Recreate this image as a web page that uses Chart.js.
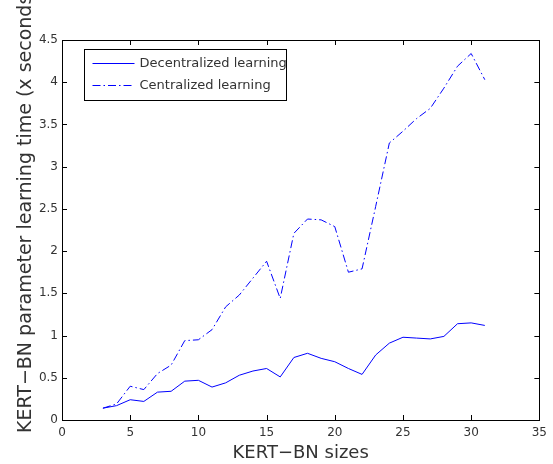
<!DOCTYPE html>
<html lang="en">
  <head>
    <meta charset="UTF-8" />
    <title>KERT-BN parameter learning time</title>
    <style>
      html, body { margin: 0; padding: 0; background: #fff; }
      #wrap { width: 553px; height: 464px; }
    </style>
  </head>
  <body>
    <div id="wrap"><canvas id="myChart" width="553" height="464"></canvas></div>

    <script src="https://cdn.jsdelivr.net/npm/chart.js"></script>
    <script>
      // data
      const sizes = [3, 4, 5, 6, 7, 8, 9, 10, 11, 12, 13, 14, 15, 16, 17, 18, 19, 20, 21, 22, 23, 24, 25, 26, 27, 28, 29, 30, 31];
      const decentralized = [0.14, 0.17, 0.24, 0.22, 0.33, 0.34, 0.46, 0.47, 0.39, 0.44, 0.53, 0.58, 0.61, 0.51, 0.74, 0.79, 0.73, 0.69, 0.61, 0.54, 0.77, 0.91, 0.98, 0.97, 0.96, 0.99, 1.14, 1.15, 1.12];
      const centralized = [0.14, 0.19, 0.40, 0.36, 0.55, 0.65, 0.94, 0.95, 1.07, 1.34, 1.48, 1.68, 1.88, 1.44, 2.21, 2.38, 2.37, 2.29, 1.75, 1.79, 2.53, 3.28, 3.42, 3.57, 3.69, 3.93, 4.19, 4.34, 4.03];
      const xTicks = [0, 5, 10, 15, 20, 25, 30, 35];
      const yTicks = [0, 0.5, 1, 1.5, 2, 2.5, 3, 3.5, 4, 4.5];

      const xTitle = "KERT\u2212BN sizes";
      const yTitle = "KERT\u2212BN parameter learning time (x seconds)";
      const font = "'DejaVu Sans', Verdana, sans-serif";
      const textCol = "#333";

      // MATLAB-like box, inward ticks, legend and y title
      const matlabAxes = {
        id: "matlabAxes",
        afterDraw(chart) {
          const ctx = chart.ctx;
          const a = chart.chartArea;
          const xs = chart.scales.x, ys = chart.scales.y;
          ctx.save();
          ctx.strokeStyle = "#000";
          ctx.lineWidth = 1;
          ctx.strokeRect(Math.round(a.left) + 0.5, Math.round(a.top) + 0.5,
            Math.round(a.right - a.left), Math.round(a.bottom - a.top));
          ctx.beginPath();
          xTicks.forEach((v) => {
            const px = Math.round(xs.getPixelForValue(v)) + 0.5;
            ctx.moveTo(px, a.bottom); ctx.lineTo(px, a.bottom - 5);
            ctx.moveTo(px, a.top); ctx.lineTo(px, a.top + 5);
          });
          yTicks.forEach((v) => {
            const py = Math.round(ys.getPixelForValue(v)) + 0.5;
            ctx.moveTo(a.left, py); ctx.lineTo(a.left + 5, py);
            ctx.moveTo(a.right, py); ctx.lineTo(a.right - 5, py);
          });
          ctx.stroke();

          // legend
          const lx = 84.5, ly = 49.5, lw = 202, lh = 51;
          ctx.fillStyle = "#fff";
          ctx.fillRect(lx, ly, lw, lh);
          ctx.strokeRect(lx, ly, lw, lh);
          ctx.font = "13px " + font;
          ctx.textBaseline = "middle";
          ctx.fillStyle = textCol;
          chart.data.datasets.forEach((ds, i) => {
            const yy = ly + 14 + i * 22;
            ctx.beginPath();
            ctx.strokeStyle = ds.borderColor;
            ctx.setLineDash(ds.borderDash || []);
            ctx.moveTo(lx + 8, yy); ctx.lineTo(lx + 50, yy);
            ctx.stroke();
            ctx.setLineDash([]);
            ctx.fillText(ds.label, lx + 55, yy);
          });

          // y axis title
          ctx.translate(26, 433);
          ctx.rotate(-Math.PI / 2);
          ctx.font = "19px " + font;
          ctx.fillStyle = textCol;
          ctx.textBaseline = "middle";
          ctx.textAlign = "left";
          ctx.fillText(yTitle, 0, 0);
          ctx.restore();
        },
      };

      const ctx = document.getElementById("myChart").getContext("2d");
      new Chart(ctx, {
        type: "line",
        data: {
          labels: sizes,
          datasets: [
            {
              label: "Decentralized learning",
              data: sizes.map((x, i) => ({ x: x, y: decentralized[i] })),
              borderColor: "#0000ff",
              borderWidth: 1,
              pointRadius: 0,
              fill: false,
              tension: 0,
            },
            {
              label: "Centralized learning",
              data: sizes.map((x, i) => ({ x: x, y: centralized[i] })),
              borderColor: "#0000ff",
              borderWidth: 1,
              borderDash: [8, 3, 1.5, 3],
              pointRadius: 0,
              fill: false,
              tension: 0,
            },
          ],
        },
        options: {
          responsive: false,
          animation: false,
          layout: { padding: { top: 40, right: 9, left: 0, bottom: 0 } },
          plugins: { legend: { display: false }, tooltip: { enabled: false } },
          scales: {
            x: {
              type: "linear",
              min: 0,
              max: 35,
              afterBuildTicks: (s) => { s.ticks = xTicks.map((v) => ({ value: v })); },
              afterFit: (s) => { s.height = 44; },
              grid: { display: false, drawTicks: false },
              border: { display: false },
              ticks: { color: textCol, font: { family: font, size: 12 }, padding: 6, maxRotation: 0, callback: (v) => String(v) },
              title: { display: true, text: xTitle, color: textCol, font: { family: font, size: 18 }, padding: { top: 0, bottom: 0 } },
            },
            y: {
              min: 0,
              max: 4.5,
              afterBuildTicks: (s) => { s.ticks = yTicks.map((v) => ({ value: v })); },
              afterFit: (s) => { s.width = 62; },
              grid: { display: false, drawTicks: false },
              border: { display: false },
              ticks: { color: textCol, font: { family: font, size: 12 }, padding: 4, callback: (v) => String(v) },
            },
          },
        },
        plugins: [matlabAxes],
      });
    </script>
  </body>
</html>
